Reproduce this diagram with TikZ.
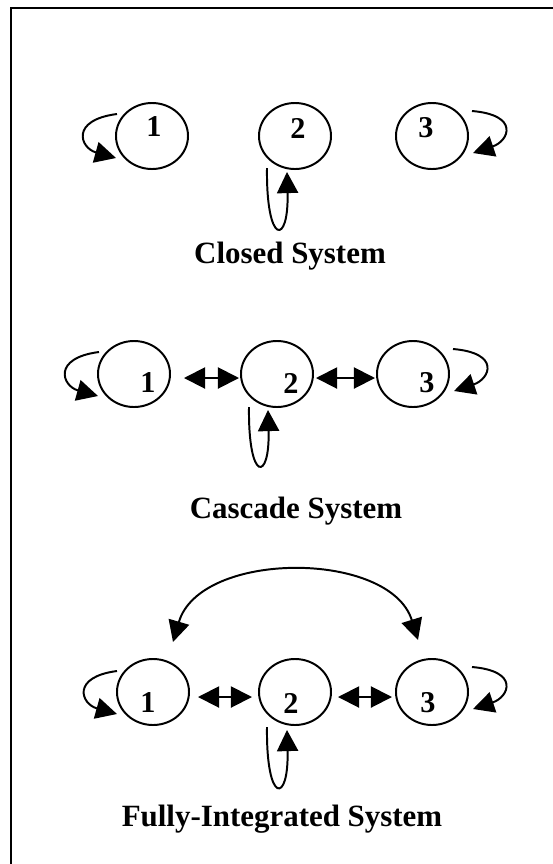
\documentclass[tikz,border=0pt]{standalone}
\usepackage{fontspec}
\setmainfont{Liberation Serif}
\usetikzlibrary{shapes.geometric,arrows.meta,calc}

\begin{document}
\begin{tikzpicture}[x=0.025cm, y=-0.025cm, >={Triangle[length=15pt,width=15pt]},
  st/.style={draw, ellipse, line width=1.4pt, minimum width=1.8cm, minimum height=1.65cm, inner sep=0pt},
  num/.style={font=\fontsize{21.5}{24}\selectfont\bfseries, inner sep=0pt},
  ttl/.style={font=\fontsize{22}{26}\selectfont\bfseries, anchor=base, inner sep=0pt},
  lp/.style={->, line width=1.4pt}]
\useasboundingbox (0,0) rectangle (553,864);
\draw[line width=1.4pt] (11,864)--(11,8)--(553,8);

% closed system
\node[st] (a1) at (152,136) {};
\node[st] (a2) at (295,136) {};
\node[st] (a3) at (432,136) {};
\node[num] (na1) at ($(a1)+(2,-9)$) {1};
\node[num] (na2) at ($(a2)+(3,-8)$) {2};
\node[num] (na3) at ($(a3)+(-6,-8)$) {3};
\draw[lp] ($(a1)+(-35,-22)$) .. controls +(-47,6) and +(-36,-10) .. ($(a1)+(-36,22)$);
\draw[lp] ($(a2)+(-28,32)$) .. controls +(-1,78) and +(2,74) .. ($(a2)+(-8,36)$);
\draw[lp] ($(a3)+(40,-25)$) .. controls +(48,4) and +(36,-12) .. ($(a3)+(41,17)$);
\node[ttl] (ta) at (290,263) {Closed System};

% cascade system
\node[st] (b1) at (134,374) {};
\node[st] (b2) at (277,374) {};
\node[st] (b3) at (413,374) {};
\node[num] (nb1) at ($(b1)+(14,9)$) {1};
\node[num] (nb2) at ($(b2)+(14,9)$) {2};
\node[num] (nb3) at ($(b3)+(14,9)$) {3};
\draw[lp] ($(b1)+(-35,-22)$) .. controls +(-47,6) and +(-36,-10) .. ($(b1)+(-36,22)$);
\draw[lp] ($(b2)+(-28,33)$) .. controls +(-1,76) and +(2,72) .. ($(b2)+(-9,36)$);
\draw[lp] ($(b3)+(40,-25)$) .. controls +(48,4) and +(36,-12) .. ($(b3)+(41,17)$);
\draw[<->, line width=1.4pt] ($(b1.east)+(13,4)$) -- ($(b2.west)+(-1,4)$);
\draw[<->, line width=1.4pt] ($(b2.east)+(2,4)$) -- ($(b3.west)+(-1,4)$);
\node[ttl] (tb) at (296,518) {Cascade System};

% fully-integrated system
\node[st] (c1) at (153,692) {};
\node[st] (c2) at (295,692) {};
\node[st] (c3) at (432,692) {};
\node[num] (nc1) at ($(c1)+(-5,11)$) {1};
\node[num] (nc2) at ($(c2)+(-4,11)$) {2};
\node[num] (nc3) at ($(c3)+(-4,11)$) {3};
\draw[lp] ($(c1)+(-36,-21)$) .. controls +(-46,6) and +(-36,-10) .. ($(c1)+(-36,22)$);
\draw[lp] ($(c2)+(-28,35)$) .. controls +(-1,78) and +(2,74) .. ($(c2)+(-8,38)$);
\draw[lp] ($(c3)+(40,-25)$) .. controls +(48,4) and +(36,-12) .. ($(c3)+(41,17)$);
\draw[<->, line width=1.4pt] ($(c1.east)+(8,5)$) -- ($(c2.west)+(-6,5)$);
\draw[<->, line width=1.4pt] ($(c2.east)+(6,5)$) -- ($(c3.west)+(-3,5)$);
\draw[<->, line width=1.4pt] ($(c1)+(20,-50)$) .. controls +(27,-92) and +(-28,-90) .. ($(c3)+(-14,-52)$);
\node[ttl] (tc) at (282,826) {Fully-Integrated System};
\end{tikzpicture}
\end{document}
